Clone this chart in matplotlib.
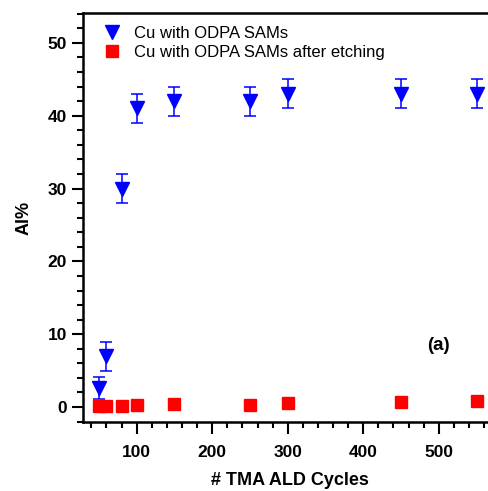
import numpy as np
import matplotlib.pyplot as plt
from matplotlib.ticker import MultipleLocator
from matplotlib.lines import Line2D

# data
cycles_sam = [50, 60, 80, 100, 150, 250, 300, 450, 550]
al_sam = [2.6, 7.0, 30.0, 41.0, 42.0, 42.0, 43.0, 43.0, 43.0]
err_lo = [1.5, 2.0, 2.0, 2.0, 2.0, 2.0, 2.0, 2.0, 2.0]
err_hi = [1.5, 2.0, 2.0, 2.0, 2.0, 2.0, 2.0, 2.0, 2.0]

cycles_etch = [50, 60, 80, 100, 150, 250, 300, 450, 550]
al_etch = [0.15, 0.15, 0.2, 0.3, 0.4, 0.35, 0.55, 0.7, 0.9]

labels = ['Cu with ODPA SAMs', 'Cu with ODPA SAMs after etching']

plt.rcParams['font.family'] = ['Liberation Sans', 'DejaVu Sans']

fig = plt.figure(figsize=(4.89, 4.91), dpi=100)
ax = fig.add_axes([83/489, 1-422/491, (497-83)/489, (422-13)/491])

ax.errorbar(cycles_sam, al_sam, yerr=[err_lo, err_hi], fmt='v', color='blue',
            ms=10, capsize=4, elinewidth=1.1, capthick=1.1, zorder=3)
ax.plot(cycles_etch, al_etch, 's', color='red', ms=8.5, ls='none', zorder=4)

ax.set_xlim(29, 577)
ax.set_ylim(-2.05, 54.1)
ax.set_xticks([100, 200, 300, 400, 500])
ax.set_yticks([0, 10, 20, 30, 40, 50])
ax.xaxis.set_minor_locator(MultipleLocator(20))
ax.yaxis.set_minor_locator(MultipleLocator(2))

ax.spines['right'].set_visible(False)
for s in ['left', 'top', 'bottom']:
    ax.spines[s].set_linewidth(1.8)
ax.tick_params(which='major', direction='out', length=8, width=1.5, labelsize=12.5)
ax.tick_params(which='minor', direction='out', length=4, width=1.5)
ax.tick_params(axis='x', which='major', length=8.5, pad=8)
for lab in ax.get_xticklabels() + ax.get_yticklabels():
    lab.set_fontweight('bold')

ax.set_xlabel('# TMA ALD Cycles', fontsize=13, fontweight='bold', labelpad=9)
ax.set_ylabel('Al%', fontsize=13, fontweight='bold', labelpad=11)
ax.text(500, 8.5, '(a)', fontsize=13.5, fontweight='bold', ha='center', va='center')

handles = [Line2D([], [], marker='v', color='blue', ls='none', ms=10),
           Line2D([], [], marker='s', color='red', ls='none', ms=8)]
ax.legend(handles, labels, loc='upper left', frameon=False, fontsize=12,
          handletextpad=0.3, borderaxespad=0.35, labelspacing=0.25,
          bbox_to_anchor=(0.0, 1.0))

fig.savefig('out.png', dpi=100)
